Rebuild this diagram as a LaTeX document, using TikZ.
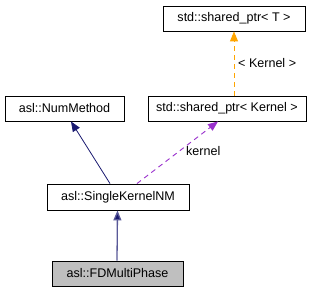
\documentclass[tikz,border=0pt]{standalone}
\usepackage{fontspec}
\setmainfont{Liberation Sans}
\usetikzlibrary{arrows.meta}
\definecolor{edgeblue}{HTML}{191970}
\definecolor{edgeorange}{HTML}{FFA500}
\definecolor{edgepurple}{HTML}{9A32CD}
\definecolor{boxgray}{HTML}{BFBFBF}
\begin{document}
\begin{tikzpicture}[x=1bp,y=1bp,
  classbox/.style={draw=black,line width=0.9bp,fill=white,minimum height=25bp,
    inner sep=0pt,font=\fontsize{12.6}{14}\selectfont},
  inherit/.style={-{Triangle[length=10bp,width=8bp,fill=edgeblue]},draw=edgeblue,line width=0.8bp},
  usage/.style={dashed,dash pattern=on 5bp off 4bp,line width=0.9bp},
  elabel/.style={font=\fontsize{12.6}{14}\selectfont,anchor=west,inner sep=0pt}]
\useasboundingbox (0,0) rectangle (325,292);
% class boxes
\node[classbox,minimum width=142bp] (tmpl) at (234,273.5) {std::shared\_ptr< T >};
\node[classbox,minimum width=119bp] (num) at (64.5,183.5) {asl::NumMethod};
\node[classbox,minimum width=158bp] (kptr) at (227,183.5) {std::shared\_ptr< Kernel >};
\node[classbox,minimum width=142bp,minimum height=26bp] (single) at (118,95) {asl::SingleKernelNM};
\node[classbox,minimum width=131bp,fill=boxgray] (fd) at (117.5,18.5) {asl::FDMultiPhase};
% template instantiation
\draw[usage,draw=edgeorange,-{Triangle[length=10bp,width=8bp,fill=edgeorange]}]
  (tmpl.south |- kptr.north) -- (tmpl.south);
\node[elabel] (lblk) at (238,229) {< Kernel >};
% inheritance
\draw[inherit] ([xshift=-8bp]single.north) -- ([xshift=6.5bp]num.south);
\draw[inherit,draw=edgeblue!72,line width=1.3bp] ([xshift=-0.5bp]fd.north) -- ([xshift=-0.5bp]single.south);
% member usage
\draw[usage,draw=edgepurple,-{Triangle[length=10bp,width=8bp,fill=edgepurple]}]
  ([xshift=19bp]single.north) -- ([xshift=-9bp]kptr.south);
\node[elabel] (lblm) at (186,141) {kernel};
\end{tikzpicture}
\end{document}
